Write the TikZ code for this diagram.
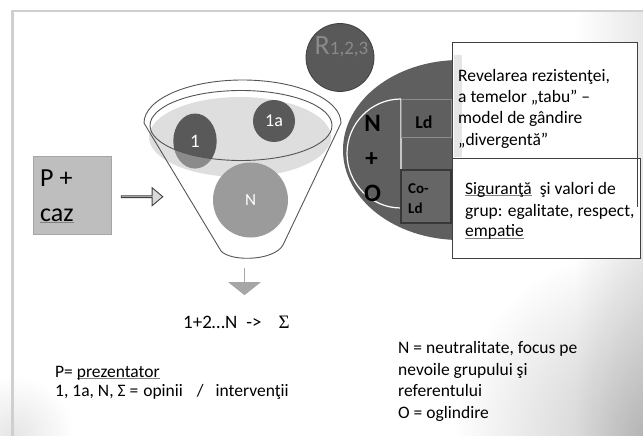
\documentclass[tikz,border=0pt]{standalone}
\usepackage{fontspec}
\setmainfont{Carlito}
\newfontfamily\sigfont{Liberation Serif}
\usetikzlibrary{shapes.arrows,shapes.geometric,fadings}
\definecolor{dk}{HTML}{5F5F5F}
\definecolor{dkc}{HTML}{595959}
\definecolor{ngray}{HTML}{9B9B9B}
\definecolor{pboxc}{HTML}{BEBEBE}
\definecolor{lgel}{HTML}{DEDEDE}
\definecolor{framec}{HTML}{CFCFCF}
\definecolor{outl}{HTML}{555555}
\definecolor{rtext}{HTML}{8A8A8A}
\tikzfading[name=fadeR, left color=transparent!100, right color=transparent!0]
\tikzfading[name=fadeC, inner color=transparent!0, outer color=transparent!100]
\newcommand{\fs}[2]{\fontsize{#1}{#2}\selectfont}
\newcommand{\squig}[1]{\setbox0\hbox{#1}\rlap{\color{gray}\rule[-2.2pt]{\wd0}{0.8pt}}\box0}
\begin{document}
\begin{tikzpicture}[x=1pt,y=-1pt,
  txt/.style={inner sep=0pt, text=black},
  body/.style={txt, anchor=base west, font=\fs{17.5}{21}},
  bubble/.style={circle, fill=dkc, inner sep=0pt, text=white},
  whitebox/.style={fill=white, draw=black!75, line width=0.9pt}]
\useasboundingbox (0,0) rectangle (643,436);
\fill[white] (0,0) rectangle (643,436);
% background gradient on the right
\begin{scope}
\clip (0,0) rectangle (643,436);
\fill[black, opacity=0.09, path fading=fadeR] (575,11) rectangle (643,436);
\fill[black, opacity=0.22, path fading=fadeC] (643,436) circle (190pt);
\fill[black, opacity=0.10, path fading=fadeC] (14,436) circle (60pt);
\end{scope}
\draw[framec, line width=2.5pt] (12.7,436) -- (12.7,11) -- (643,11);

% P + caz box
\node[draw=black!35, fill=pboxc, minimum width=78pt, minimum height=78pt, inner sep=0pt] (pbox) at (72,195) {};
\node[txt, anchor=base west, font=\fs{26}{30}] (ptxt) at (40,186.7) {P +};
\node[txt, anchor=base west, font=\fs{26}{30}] (caztxt) at (40,221) {\squig{caz}};

% hollow arrow
\node[single arrow, draw=black!75, fill=black!15, line width=0.9pt, minimum height=41.6pt, minimum width=18pt,
      single arrow head extend=4.3pt, single arrow tip angle=80, inner sep=0pt] (harr) at (141.5,196.7) {};

% funnel
\fill[white] (144,123) -- (221,251) .. controls (231,262) and (274,261) .. (283,245) -- (341,123)
   .. controls (341,99.25) and (296.9,80) .. (242.5,80) .. controls (188.1,80) and (144,99.25) .. (144,123) -- cycle;
\fill[lgel] (240,137) ellipse [x radius=91pt, y radius=40pt];
\node[ellipse, fill=dkc, minimum width=43.4pt, minimum height=55pt, inner sep=0pt, text=white, font=\fs{19}{19}] (c1) at (195,141) {1};
\begin{scope}
\clip (195,141) ellipse [x radius=21.7pt, y radius=27.5pt];
\fill[white, opacity=0.3, even odd rule] (100,60) rectangle (350,300) (241,125.5) ellipse [x radius=91pt, y radius=35pt];
\end{scope}
\node[bubble, minimum size=42pt, font=\fs{18}{18}] (c1a) at (274,121) {1a};
\node[circle, fill=ngray, inner sep=0pt, minimum size=75pt, text=white, font=\fs{17}{17}] (cN) at (250.5,200) {N};
\draw[outl, line width=0.9pt] (144,123) -- (221,251) .. controls (231,262) and (274,261) .. (283,245) -- (341,123)
   .. controls (341,99.25) and (296.9,80) .. (242.5,80) .. controls (188.1,80) and (144,99.25) .. (144,123) -- cycle;
\draw[outl, line width=0.9pt] (241,125.5) ellipse [x radius=91pt, y radius=35pt];

% down arrow
\node[single arrow, fill=black!35, shape border rotate=270, minimum height=27pt, minimum width=33pt,
      single arrow head extend=8.3pt, single arrow tip angle=103, inner sep=0pt] (darr) at (244.5,281.5) {};
\node[txt, anchor=base west, font=\fs{19}{22}] (sumtxt) at (183,328) {1+2…N\hspace{9pt}->\hspace{17pt}{\sigfont Σ}};

% bottom texts
\node[body] (pl1) at (55,377) {P= \squig{prezentator}};
\node[body] (pl2) at (55,396) {1, 1a, N, Σ =\hspace{5pt}opinii\hspace{14pt}/\hspace{12pt}intervenţii};
\node[body] (nl1) at (398,353.3) {N = neutralitate, focus pe};
\node[body] (nl2) at (398,375) {nevoile grupului şi};
\node[body] (nl3) at (398,396.7) {referentului};
\node[body] (nl4) at (398,418.3) {O = oglindire};

% R circle
\node[circle, fill=dkc, draw=black!75, line width=0.8pt, minimum size=68pt, inner sep=0pt] (R) at (340,57.5) {};
\node[inner sep=0pt, anchor=base, text=rtext] (Rlbl) at (341.5,55) {\fs{28}{28}R\fs{19}{19}1,2,3};

% big ellipse with N+O
\fill[dk] (460,150) ellipse [x radius=117pt, y radius=90pt];
\draw[white, line width=1.2pt] (401,99) .. controls (371.2,99) and (347,123.4) .. (347,153.5)
   .. controls (347,183.6) and (371.2,208) .. (401,208) -- (401,99);
\node[txt, anchor=base, font=\bfseries\fs{25}{25}] (nN) at (372.5,131.7) {N};
\node[txt, anchor=center, font=\bfseries\fs{25}{25}] (nPlus) at (371.5,160) {+};
\node[txt, anchor=base, font=\bfseries\fs{25}{25}] (nO) at (372.5,201) {O};
\node[draw=black!45, fill=dk, line width=1pt, minimum width=50pt, minimum height=37pt, inner sep=0pt] (ld) at (426,118.5) {};
\node[txt, anchor=base, font=\bfseries\fs{18}{18}] (ldtxt) at (424,128.3) {Ld};
\node[draw=black!78, fill=black!60, line width=1.8pt, minimum width=50pt, minimum height=53pt, inner sep=0pt] (cold) at (426,196.5) {};
\node[txt, anchor=base west, font=\bfseries\fs{15}{15}] (cotxt1) at (408,193.3) {Co-};
\node[txt, anchor=base west, font=\bfseries\fs{15}{15}] (cotxt2) at (408,213.3) {Ld};

% text boxes
\node[whitebox, minimum width=185pt, minimum height=165pt, inner sep=0pt] (box1) at (544.5,124.5) {};
\fill[black!10] (453.5,55) rectangle (462,157);
\node[whitebox, minimum width=188pt, minimum height=100pt, inner sep=0pt] (box2) at (546,208) {};
\draw[black!75, line width=0.9pt] (box1.north east |- box2.north) -- (box1.south east);
\node[body] (b1l1) at (458,81.5) {Revelarea rezistenţei,};
\node[body] (b1l2) at (458,102.5) {a temelor „tabu” –};
\node[body] (b1l3) at (458,123.5) {model de gândire};
\node[body] (b1l4) at (458,145) {„divergentă”};
\node[body] (b2l1) at (465,194) {\squig{Siguranţă}\hspace{4pt} şi valori de};
\node[body] (b2l2) at (465,216) {grup: egalitate, respect,};
\node[body] (b2l3) at (465,236.5) {\squig{empatie}};
\end{tikzpicture}
\end{document}
